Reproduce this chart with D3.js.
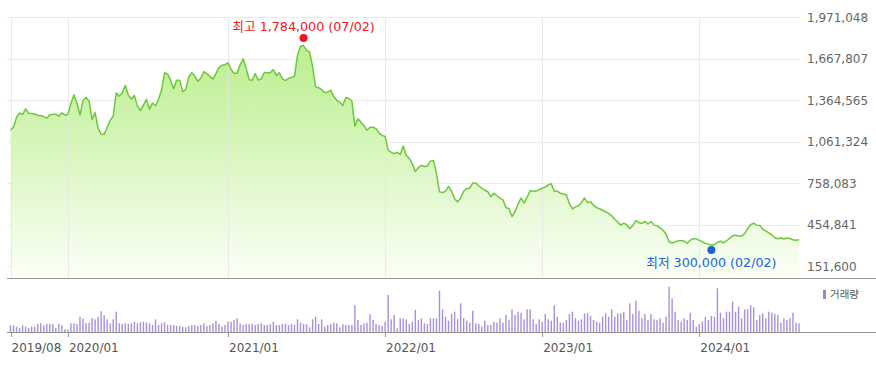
<!DOCTYPE html>
<html><head><meta charset="utf-8">
<script src="https://cdn.jsdelivr.net/npm/d3@7"></script>
<style>
html,body{margin:0;padding:0;background:#fff;}
svg{display:block;font-family:"DejaVu Sans","Noto Sans CJK KR",sans-serif;}
</style></head>
<body><svg id="c" width="876" height="365"></svg>
<script>
// weekly closing prices (thousand won), first week 2019-08-23
const startDate = "2019-08-23";
const priceK = [
 1146,1170,1240,1272,1262,1302,1270,1268,1265,1256,
 1254,1245,1234,1257,1262,1262,1249,1273,1256,1262,
 1342,1403,1345,1256,1362,1385,1360,1225,1275,1160,
 1118,1115,1170,1218,1250,1420,1395,1420,1474,1403,
 1373,1400,1322,1290,1330,1372,1300,1345,1325,1370,
 1440,1566,1556,1512,1450,1512,1512,1428,1444,1536,
 1566,1542,1503,1528,1575,1560,1540,1520,1560,1605,
 1621,1625,1639,1590,1563,1562,1625,1668,1600,1515,
 1512,1560,1512,1522,1568,1566,1566,1590,1545,1566,
 1522,1508,1525,1532,1540,1695,1760,1765,1730,1718,
 1610,1463,1457,1442,1420,1425,1439,1392,1365,1350,
 1327,1385,1378,1360,1175,1229,1205,1180,1146,1168,
 1168,1158,1125,1108,1100,1000,985,975,985,968,
 1030,960,940,900,845,872,890,880,885,920,
 925,830,695,690,700,735,700,645,622,650,
 700,720,722,760,760,738,722,707,696,659,
 685,667,650,636,580,573,515,550,605,650,
 615,655,705,700,700,712,722,730,746,755,
 700,700,685,680,672,610,570,585,595,618,
 650,617,622,598,580,572,561,550,538,520,
 495,475,452,466,455,425,450,485,470,465,
 480,460,478,452,448,432,415,385,330,320,
 330,337,337,335,320,342,352,352,340,330,
 318,313,305,310,325,335,322,337,354,375,
 378,372,372,390,425,455,466,452,450,422,
 410,395,380,360,352,360,350,358,354,345,
 342,345];
// weekly volume (relative units)
const volume = [
 67,67,53,40,67,53,40,53,53,80,
 87,67,80,80,80,40,80,67,27,27,
 87,87,80,153,133,87,93,140,127,153,
 207,167,127,87,127,203,87,80,87,80,
 87,103,87,97,103,97,87,70,127,70,
 87,97,70,70,70,60,60,53,47,60,
 70,70,60,70,87,60,70,87,113,80,
 53,70,103,103,120,137,87,70,80,77,
 80,70,80,87,70,70,80,103,70,70,
 80,80,70,80,70,127,93,80,77,47,
 127,153,80,127,53,70,80,93,87,47,
 77,70,70,70,267,120,70,87,93,180,
 120,80,70,60,103,370,127,170,37,137,
 137,127,80,103,220,120,137,87,80,137,
 137,137,413,227,153,113,180,203,127,287,
 137,113,93,213,87,80,53,113,70,70,
 103,93,137,93,170,120,227,170,203,193,
 127,227,227,127,80,127,103,180,127,113,
 267,153,93,93,120,180,203,137,113,127,
 187,187,160,120,103,93,153,187,153,227,
 153,187,187,203,120,287,180,313,213,137,
 180,120,180,127,120,137,93,153,453,337,
 203,120,103,137,120,193,120,53,80,103,
 153,120,160,153,437,193,137,203,203,303,
 203,253,137,227,227,267,247,120,170,187,
 137,203,193,180,170,93,137,120,137,193,
 93,87];
const yTicks = [1971048,1667807,1364565,1061324,758083,454841,151600];
const xTickDates = ["2019-08-23","2020-01-03","2021-01-08","2022-01-07","2023-01-06","2024-01-05"];
const xTickLabels = ["2019/08","2020/01","2021/01","2022/01","2023/01","2024/01"];
const maxInfo = {date:"2021-07-02", value:1784000, label:"최고 1,784,000 (07/02)"};
const minInfo = {date:"2024-02-02", value:300000, label:"최저 300,000 (02/02)"};
const legendLabel = "거래량";

const parse = d3.timeParse("%Y-%m-%d");
const t0 = parse(startDate);
const data = priceK.map((p,i)=>({date:d3.timeDay.offset(t0,7*i), price:p*1000, vol:volume[i]}));

const svg = d3.select("#c");
const x = d3.scaleTime().domain([t0, data[data.length-1].date]).range([10.5, 799]);
const y = d3.scaleLinear().domain([151600,1971048]).range([266.2,17.4]);
const yv = d3.scaleLinear().domain([0,500]).range([332,282]);

// defs gradient
const defs = svg.append("defs");
const g = defs.append("linearGradient").attr("id","ag").attr("gradientUnits","userSpaceOnUse")
  .attr("x1",0).attr("y1",17).attr("x2",0).attr("y2",278);
g.append("stop").attr("offset","0%").attr("stop-color","#b4ec82");
g.append("stop").attr("offset","100%").attr("stop-color","#fbfff7");

// horizontal grid
svg.append("g").selectAll("line").data(yTicks).join("line")
  .attr("x1",7).attr("x2",800).attr("y1",d=>Math.round(y(d))+0.5).attr("y2",d=>Math.round(y(d))+0.5)
  .attr("stroke","#ebebeb").attr("stroke-width",1);

// area
const area = d3.area().x(d=>x(d.date)).y0(278).y1(d=>y(d.price)).curve(d3.curveLinear);
svg.append("path").datum(data).attr("d",area).attr("fill","url(#ag)");

// vertical grid
svg.append("g").selectAll("line").data(xTickDates).join("line")
  .attr("x1",d=>Math.round(x(parse(d)))+0.5).attr("x2",d=>Math.round(x(parse(d)))+0.5)
  .attr("y1",17).attr("y2",278)
  .attr("stroke","#e6e6e6").attr("stroke-opacity",0.8).attr("stroke-width",1);

// line
const line = d3.line().x(d=>x(d.date)).y(d=>y(d.price));
svg.append("path").datum(data).attr("d",line).attr("fill","none")
  .attr("stroke","#6cc93a").attr("stroke-width",1.5).attr("stroke-linejoin","round");

// price panel bottom
svg.append("line").attr("x1",7).attr("x2",876).attr("y1",278.5).attr("y2",278.5)
  .attr("stroke","#9a9a9a").attr("stroke-width",1);

// y labels
svg.append("g").selectAll("text").data(yTicks).join("text")
  .attr("x",807).attr("y",d=>y(d)).attr("dy","0.36em")
  .attr("font-size",12).attr("fill","#666")
  .text(d=>d3.format(",")(d));

// volume bars
svg.append("g").selectAll("rect").data(data).join("rect")
  .attr("x",d=>x(d.date)-0.7).attr("width",1.4)
  .attr("y",d=>yv(d.vol)).attr("height",d=>332-yv(d.vol))
  .attr("fill","#a890db");

// volume baseline
svg.append("line").attr("x1",7).attr("x2",876).attr("y1",332.5).attr("y2",332.5)
  .attr("stroke","#8f8f8f").attr("stroke-width",1);

// x ticks and labels
const xt = svg.append("g");
xt.selectAll("line").data(xTickDates).join("line")
  .attr("x1",d=>Math.round(x(parse(d)))+0.5).attr("x2",d=>Math.round(x(parse(d)))+0.5)
  .attr("y1",332).attr("y2",337).attr("stroke","#999");
xt.selectAll("text").data(xTickDates).join("text")
  .attr("x",d=>x(parse(d))+1).attr("y",352)
  .attr("font-size",12).attr("fill","#555")
  .text((d,i)=>xTickLabels[i]);

// legend
svg.append("rect").attr("x",823).attr("y",290).attr("width",3).attr("height",9).attr("fill","#9b84d3");
svg.append("text").attr("x",830).attr("y",294.5).attr("dy","0.35em")
  .attr("font-size",10.5).attr("fill","#555").text(legendLabel);

// max / min markers
const mx = x(parse(maxInfo.date)), myv = y(maxInfo.value) - 5;
svg.append("circle").attr("cx",mx).attr("cy",myv).attr("r",4).attr("fill","#f0141e");
svg.append("text").attr("x",mx).attr("y",30.5).attr("text-anchor","middle")
  .attr("font-size",12.7).attr("fill","#f0141e").text(maxInfo.label);

const nx = x(parse(minInfo.date)), nyv = y(minInfo.value) + 4;
svg.append("circle").attr("cx",nx).attr("cy",nyv).attr("r",4).attr("fill","#1a63d6");
svg.append("text").attr("x",nx).attr("y",267).attr("text-anchor","middle")
  .attr("font-size",12.7).attr("fill","#1a63d6").text(minInfo.label);
</script></body></html>
